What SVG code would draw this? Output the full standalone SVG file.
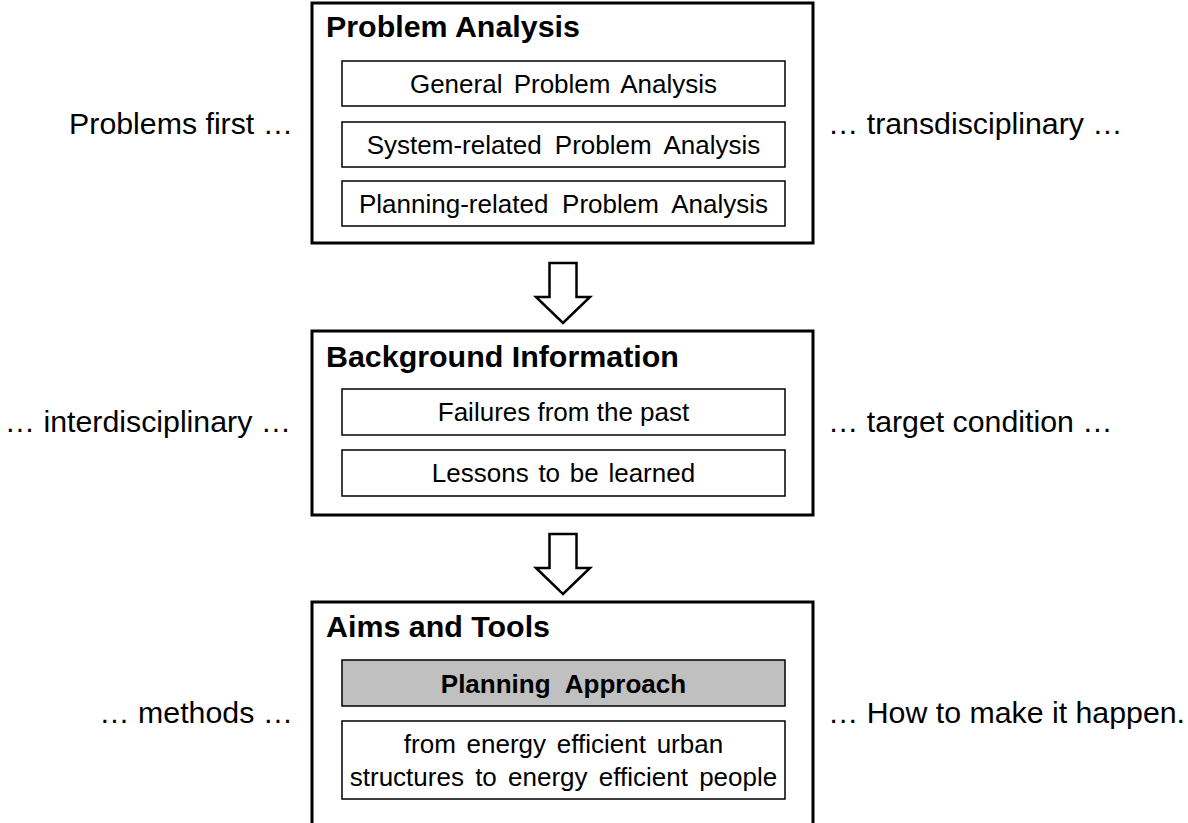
<svg xmlns="http://www.w3.org/2000/svg" width="1188" height="823" viewBox="0 0 1188 823">
  <style>
    text { font-family: "Liberation Sans", Arial, sans-serif; fill: #000; }
    .outer { fill: #fff; stroke: #000; stroke-width: 3; }
    .inner { fill: #fff; stroke: #000; stroke-width: 1.5; }
    .shade { fill: #c0c0c0; stroke: #000; stroke-width: 1.5; }
    .title { font-size: 30.4px; font-weight: bold; }
    .item { font-size: 26px; text-anchor: middle; }
    .item-bold { font-size: 26px; font-weight: bold; text-anchor: middle; }
    .side { font-size: 30.3px; }
    .left { text-anchor: end; }
    .arrow { fill: #fff; stroke: #000; stroke-width: 2.5; stroke-linejoin: miter; }
  </style>
  <defs>
    <path id="down-arrow" d="M -13.5 0 H 13.5 V 34 H 27 L 0 60 L -27 34 H -13.5 Z"/>
  </defs>
  <rect width="1188" height="823" fill="#fff"/>

  <!-- block 1: problem analysis -->
  <g id="problem-analysis">
    <rect class="outer" x="312" y="3" width="501" height="240"/>
    <text class="title" x="326" y="37">Problem Analysis</text>
    <rect class="inner" x="342" y="61" width="443" height="45"/>
    <text class="item" x="563.5" y="93" word-spacing="4">General Problem Analysis</text>
    <rect class="inner" x="342" y="122" width="443" height="45"/>
    <text class="item" x="563.5" y="154" word-spacing="6">System-related Problem Analysis</text>
    <rect class="inner" x="342" y="181" width="443" height="45"/>
    <text class="item" x="563.5" y="213" word-spacing="6.5">Planning-related Problem Analysis</text>
  </g>

  <!-- block 2: background information -->
  <g id="background-information">
    <rect class="outer" x="312" y="331" width="501" height="184"/>
    <text class="title" x="326" y="367">Background Information</text>
    <rect class="inner" x="342" y="389" width="443" height="46"/>
    <text class="item" x="563.5" y="421">Failures from the past</text>
    <rect class="inner" x="342" y="450" width="443" height="46"/>
    <text class="item" x="563.5" y="482" word-spacing="2.5">Lessons to be learned</text>
  </g>

  <!-- block 3: aims and tools (runs past the lower edge) -->
  <g id="aims-and-tools">
    <rect class="outer" x="312" y="602" width="501" height="230"/>
    <text class="title" x="326" y="637">Aims and Tools</text>
    <rect class="shade" x="342" y="660" width="443" height="46"/>
    <text class="item-bold" x="563.5" y="692.5" word-spacing="8">Planning Approach</text>
    <rect class="inner" x="342" y="721" width="443" height="78"/>
    <text class="item" x="563.5" y="753" word-spacing="3.5">from energy efficient urban</text>
    <text class="item" x="563.5" y="785.5" word-spacing="4">structures to energy efficient people</text>
  </g>

  <!-- flow arrows between blocks -->
  <g id="connectors">
    <use href="#down-arrow" class="arrow" x="563" y="263"/>
    <use href="#down-arrow" class="arrow" x="563" y="534"/>
  </g>

  <!-- side remarks -->
  <g id="side-labels">
    <text class="side left" x="293" y="134">Problems first …</text>
    <text class="side" x="828" y="134">… transdisciplinary …</text>
    <text class="side left" x="291" y="432">… interdisciplinary …</text>
    <text class="side" x="828" y="432">… target condition …</text>
    <text class="side left" x="293" y="723">… methods …</text>
    <text class="side" x="828" y="723">… How to make it happen.</text>
  </g>
</svg>
